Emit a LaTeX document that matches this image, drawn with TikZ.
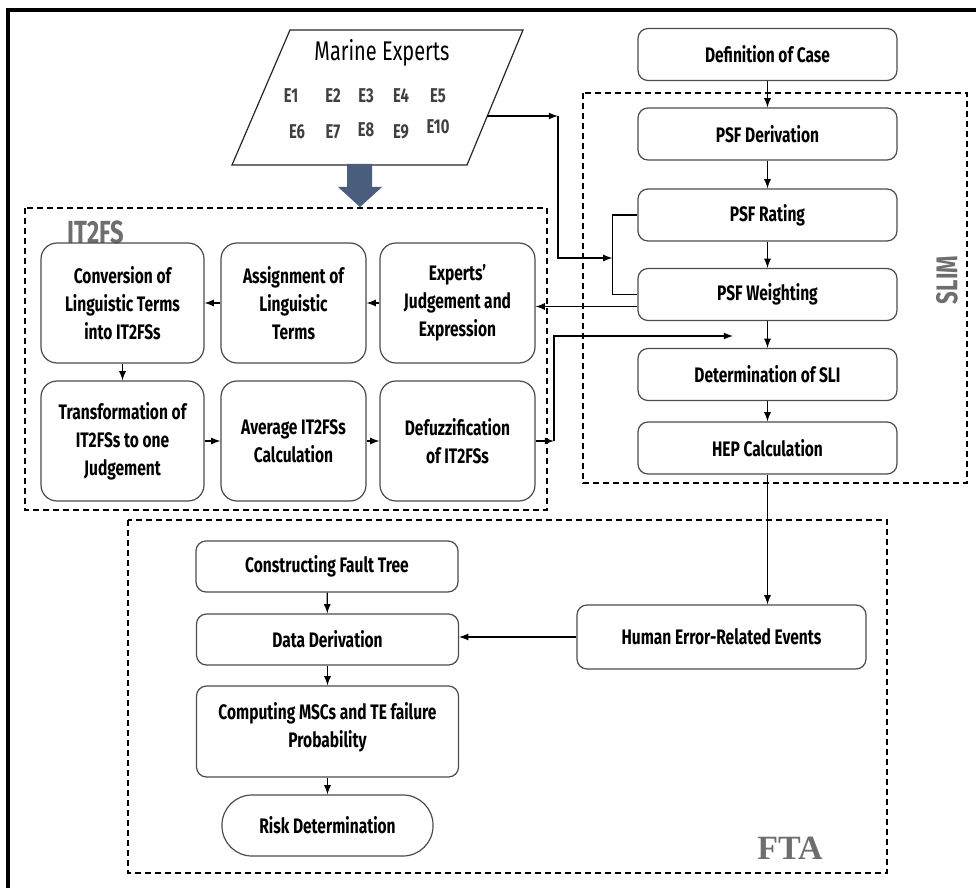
\documentclass[tikz,border=0pt]{standalone}
\usepackage{fontspec}
\setmainfont{Fira Sans}[FakeStretch=0.74]
\newfontfamily\ftafont{Liberation Serif}
\definecolor{arrowslate}{HTML}{4A5D7C}
\definecolor{labelgray}{HTML}{6E6E6E}

\begin{document}
\begin{tikzpicture}[x=0.5pt, y=-0.5pt,
  box/.style={draw=gray!60!black, line width=0.6pt, rounded corners=5pt, align=center,
    font=\bfseries\fontsize{10.5}{14}\selectfont, inner sep=2pt},
  slimbox/.style={box, minimum width=129.5pt, minimum height=26pt},
  itbox/.style={box, rounded corners=8pt, minimum height=60pt},
  ftabox/.style={box, minimum width=131pt, minimum height=25.5pt},
  region/.style={draw, line width=0.9pt, dash pattern=on 3pt off 2pt},
  conn/.style={-latex, line width=0.6pt},
  elabel/.style={font=\bfseries\fontsize{10}{10}\selectfont, text=black!75}]
          \useasboundingbox (0,0) rectangle (976,888);
          \draw[line width=1.6pt] (976,10) -- (8,10) -- (8,888);
          
          % Marine experts
          \draw[line width=0.6pt, draw=gray!30!black] (232,165) -- (290,30) -- (523,30) -- (467,165) -- cycle;
          \node[font=\fontsize{13.5}{13.5}\selectfont] (mexp) at (382,53) {Marine Experts};
          \foreach \n/\x/\y in {E1/291/96, E2/333/96, E3/366/96, E4/401/96, E5/438/96,
                                E6/297/132, E7/333/132, E8/366/130, E9/401/132, E10/438/127}
            \node[elabel] (\n) at (\x,\y) {\n};
          \coordinate (expout) at (487,116);
          \fill[arrowslate] (347,164) -- (372,164) -- (372,187) -- (382,187) -- (360,207)
            -- (338,187) -- (347,187) -- cycle;
          
          % Regions
          \draw[region] (25,208) rectangle (547,510);
          \draw[region] (583,93) rectangle (967,483);
          \draw[region] (128,520) rectangle (887,873);
          \node[font=\bfseries\fontsize{16}{16}\selectfont, text=labelgray] (itlabel) at (96,232) {IT2FS};
          \node[rotate=90, font=\bfseries\fontsize{15}{15}\selectfont, text=labelgray] (slimlabel) at (947,280) {SLIM};
          \node[font=\ftafont\bfseries\fontsize{17}{17}\selectfont, text=labelgray] (ftalabel) at (790,848) {FTA};
          
          % SLIM
          \node[slimbox] (defcase) at (767.5,54.5) {Definition of Case};
          \node[slimbox] (psfder) at (767.5,134) {PSF Derivation};
          \node[slimbox] (psfrate) at (767.5,215) {PSF Rating};
          \node[slimbox] (psfweight) at (767.5,294.5) {PSF Weighting};
          \node[slimbox] (sli) at (767.5,374.5) {Determination of SLI};
          \node[slimbox] (hep) at (767.5,448) {HEP Calculation};
          
          % IT2FS
          \node[itbox, minimum width=81.5pt] (conv) at (122.5,303) {Conversion of\\Linguistic Terms\\into IT2FSs};
          \node[itbox, minimum width=72.5pt] (assign) at (293.5,303) {Assignment of\\Linguistic\\Terms};
          \node[itbox, minimum width=77.5pt] (expj) at (457.5,303) {Experts'\\Judgement and\\Expression};
          \node[itbox, minimum width=81.5pt] (transf) at (122.5,441) {Transformation of\\IT2FSs to one\\Judgement};
          \node[itbox, minimum width=72.5pt] (avg) at (293.5,441) {Average IT2FSs\\Calculation};
          \node[itbox, minimum width=77.5pt] (defuz) at (457.5,441) {Defuzzification\\of IT2FSs};
          
          % FTA
          \node[ftabox] (cft) at (327,566.5) {Constructing Fault Tree};
          \node[ftabox] (datad) at (327.5,639.5) {Data Derivation};
          \node[ftabox, minimum height=45.5pt] (comp) at (327.5,731.5) {Computing MSCs and TE failure\\Probability\\[-7pt]};
          \node[ftabox, minimum width=105.5pt, minimum height=30.5pt, rounded corners=15pt] (risk) at (327.5,825.5) {Risk Determination};
          \node[box, minimum width=144.5pt, minimum height=32pt] (human) at (721.5,637) {Human Error-Related Events};
          
          % Connectors
          \draw[conn] (defcase) -- (psfder);
          \draw[conn] (psfder) -- (psfrate);
          \draw[conn] (psfrate) -- (psfweight);
          \draw[conn] (psfweight) -- (sli);
          \draw[conn] (sli) -- (hep);
          \draw[conn] (hep) -- (hep |- human.north);
          \draw[conn] (human) -- (human -| datad.east);
          \draw[conn] (cft) -- (datad);
          \draw[conn] (datad) -- (comp);
          \draw[conn] (comp) -- (risk);
          \draw[conn] (expj) -- (assign);
          \draw[conn] (assign) -- (conv);
          \draw[conn] (conv) -- (transf);
          \draw[conn] (transf) -- (avg);
          \draw[conn] (avg) -- (defuz);
          
          \draw[line width=0.6pt] (psfrate.west) -- ++(-25,0) coordinate (brk) |- (psfweight.west);
          \draw[conn] (expout) -- (558,116) coordinate (turn);
          \draw[conn] (turn) |- (brk |- 0,258);
          \coordinate (wout) at ([yshift=-6pt]psfweight.west);
          \draw[conn] (wout) -- (wout -| expj.east);
          \coordinate (sliin) at (733,336);
          \draw[conn] (defuz) -- (554,441) coordinate (up);
          \draw[conn] (up) |- (sliin);
        \end{tikzpicture}
\end{document}
